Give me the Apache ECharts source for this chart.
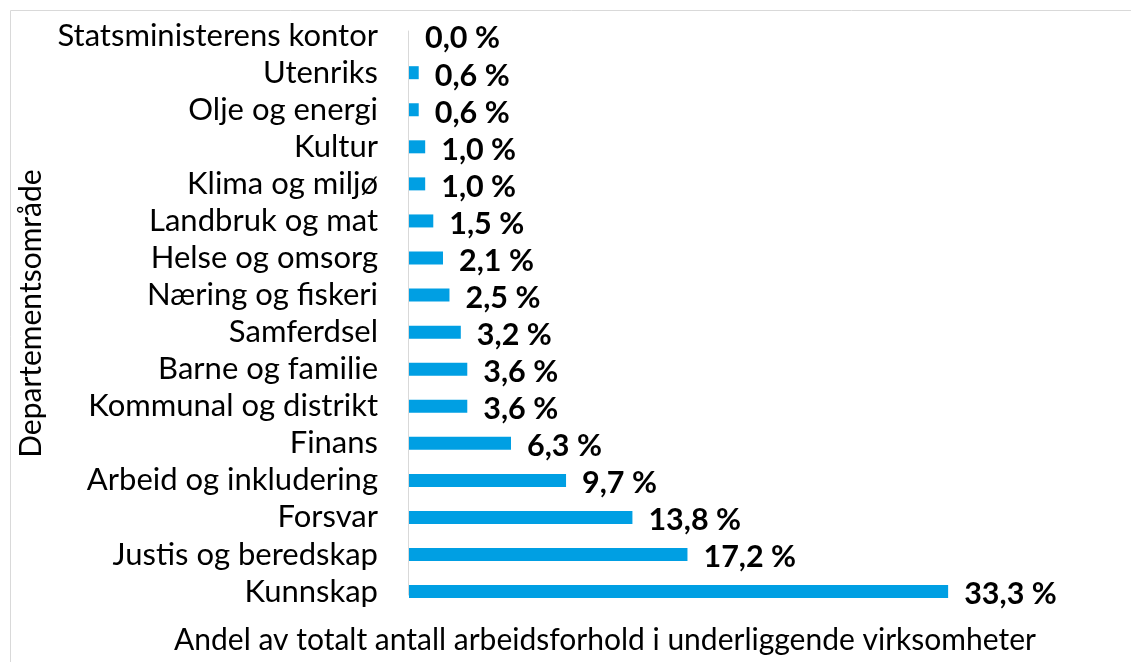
<!DOCTYPE html>
<html><head><meta charset="utf-8">
<script src="https://cdn.jsdelivr.net/npm/echarts@6/dist/echarts.min.js"></script>
<style>html,body{margin:0;padding:0;background:#fff}#c{width:1131px;height:662px}</style>
</head><body><div id="c"></div>
<script>
const categories = ["Statsministerens kontor","Utenriks","Olje og energi","Kultur","Klima og miljø","Landbruk og mat","Helse og omsorg","Næring og fiskeri","Samferdsel","Barne og familie","Kommunal og distrikt","Finans","Arbeid og inkludering","Forsvar","Justis og beredskap","Kunnskap"];
const values = [0.0,0.6,0.6,1.0,1.0,1.5,2.1,2.5,3.2,3.6,3.6,6.3,9.7,13.8,17.2,33.3];
const yTitle = "Departementsområde";
const xTitle = "Andel av totalt antall arbeidsforhold i underliggende virksomheter";
const FONT = "Lato";
const chart = echarts.init(document.getElementById('c'));
chart.setOption({
  animation:false,
  graphic:[{type:'rect',shape:{x:10.5,y:10.5,width:1200,height:700},style:{fill:'none',stroke:'#d9d9d9',lineWidth:1},z:-1}],
  grid:[{left:409,top:17.1,height:593,width:647.6},{left:408.5,top:31,height:564,width:1}],
  xAxis:[{type:'value',min:0,max:40,show:false,gridIndex:0},{type:'value',show:false,gridIndex:1}],
  yAxis:[{type:'category',data:categories,inverse:true,gridIndex:0,
    axisLine:{show:false},
    axisTick:{show:false},
    axisLabel:{interval:0,margin:31,color:'#000',fontSize:31,fontFamily:FONT},
    name:yTitle,nameLocation:'middle',nameRotate:90,nameGap:362,
    nameTextStyle:{color:'#000',fontSize:30,fontFamily:FONT}
  },{type:'value',gridIndex:1,min:0,max:1,axisLine:{show:true,lineStyle:{color:'#d9d9d9',width:1}},
    axisTick:{show:false},axisLabel:{show:false},splitLine:{show:false}}],
  series:[{type:'bar',data:values,barWidth:13,itemStyle:{color:'#009fe3'},
    label:{show:true,position:'right',distance:16,color:'#000',fontSize:30.5,fontWeight:'bold',fontFamily:FONT,offset:[0,3],
      formatter:p=>p.value.toFixed(1).replace('.',',')+' %'}}],
  title:{text:xTitle,left:600,textAlign:'center',top:620,textStyle:{color:'#000',fontSize:30,fontWeight:'normal',fontFamily:FONT}}
});
</script></body></html>
